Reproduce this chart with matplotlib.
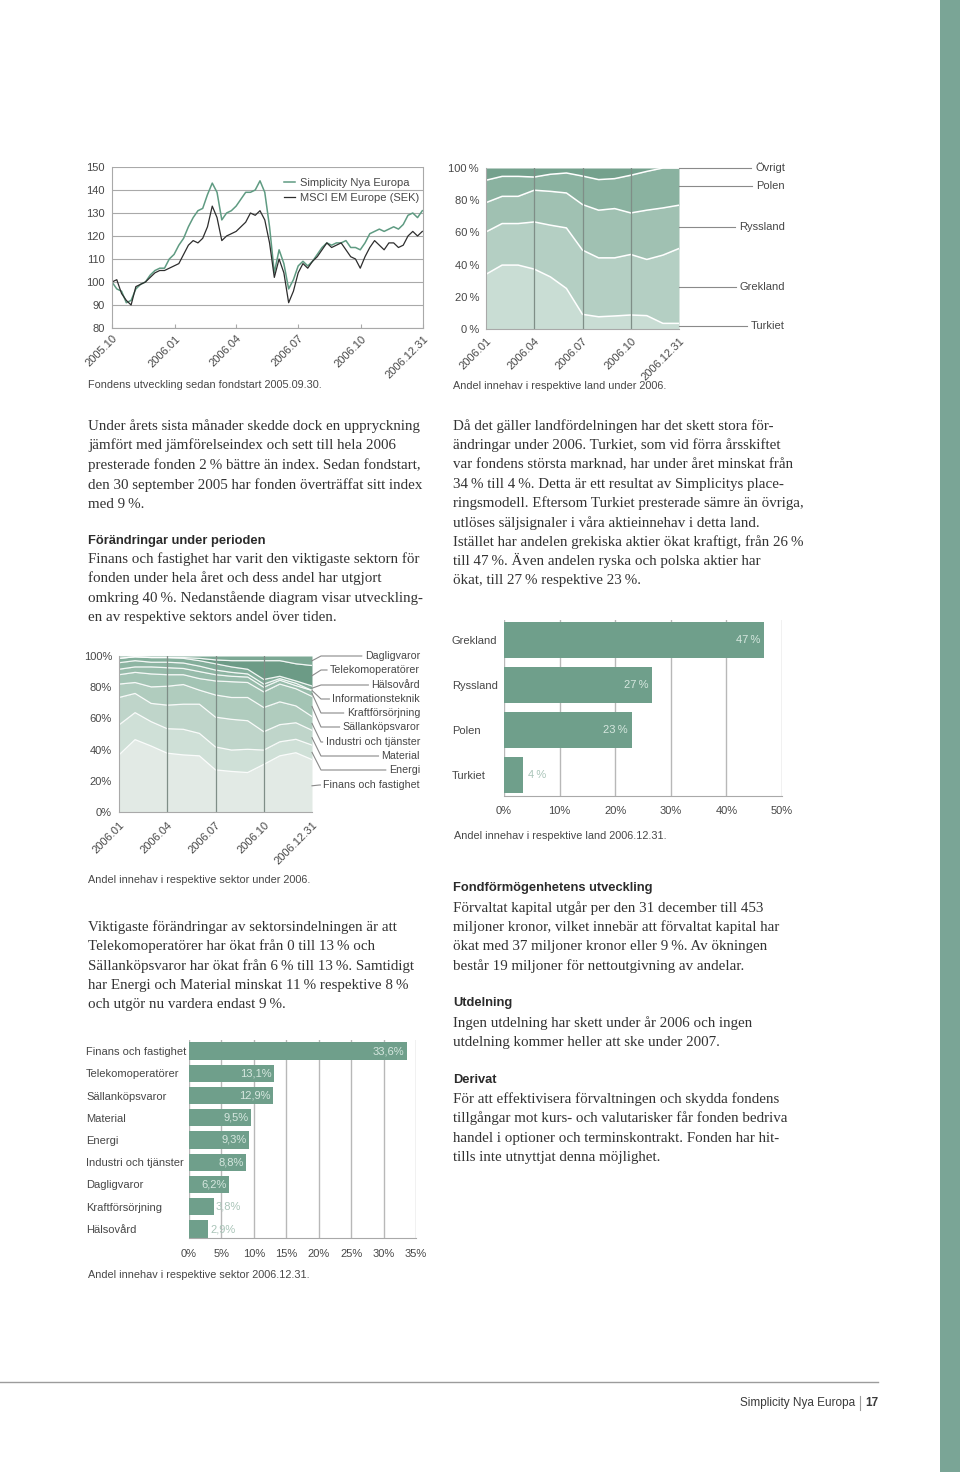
import numpy as np
import matplotlib
matplotlib.use("Agg")
import matplotlib.pyplot as plt
from matplotlib.lines import Line2D

W, H = 960, 1472
SANS = ["Liberation Sans", "DejaVu Sans"]
SERIF = ["Liberation Serif", "DejaVu Serif"]
GRID = "#a9a9a9"
LAB = "#474747"
BODY = "#333333"
BAR = "#6f9f8b"
TS = "\u2009"  # thin space before %

# fund vs index, one value per week from 2005-10-01
fund = [100, 97, 96, 91, 92, 97, 99, 100, 103, 105,
        106, 106, 110, 112, 116, 119, 124, 128, 131, 132,
        138, 143, 139, 127, 130, 131, 133, 136, 139, 139,
        140, 144, 139, 124, 104, 114, 108, 97, 101, 107,
        109, 107, 109, 112, 115, 117, 116, 117, 117, 118,
        115, 115, 114, 117, 121, 122, 123, 122, 123, 124,
        123, 125, 129, 130, 128, 131]
index = [100, 101, 95, 92, 90, 98, 99, 100, 102, 104,
         105, 105, 106, 107, 108, 112, 116, 118, 117, 119,
         124, 133, 128, 118, 120, 121, 122, 124, 126, 130,
         129, 131, 127, 117, 102, 110, 104, 91, 96, 104,
         108, 106, 109, 111, 114, 117, 115, 116, 117, 114,
         111, 110, 106, 111, 115, 118, 116, 114, 117, 117,
         115, 116, 120, 122, 120, 122]
line_tick_days = [0, 92, 182, 273, 365, 456]
line_tick_labels = ["2005.10", "2006.01", "2006.04", "2006.07", "2006.10", "2006.12.31"]

# monthly shares 2006.01 .. 2006.12.31
months = np.arange(13)
area_ticks = [0, 3, 6, 9, 12]
area_tick_labels = ["2006.01", "2006.04", "2006.07", "2006.10", "2006.12.31"]

countries = ["Turkiet", "Grekland", "Ryssland", "Polen", "Övrigt"]
turkiet = [34.0, 39.7, 39.7, 37.2, 32.4, 25.2, 9.1, 7.6, 8.1, 8.7, 8.3, 3.5, 3.5]
grekland = [26.3, 25.8, 25.8, 29.3, 32.1, 37.6, 39.9, 36.6, 36.1, 37.6, 34.9, 42.4, 46.5]
ryssland = [18.2, 16.9, 16.9, 19.7, 21.0, 21.7, 28.3, 29.6, 30.6, 25.8, 30.6, 29.3, 26.9]
polen = [13.9, 12.4, 12.4, 8.2, 10.6, 12.4, 17.7, 19.0, 18.6, 23.4, 24.1, 24.8, 23.1]
ovrigt = [7.6, 5.2, 5.2, 5.6, 3.9, 3.1, 5.0, 7.2, 6.6, 4.5, 2.1, 0.0, 0.0]
country_colors = ["#c9ddd4", "#b4cfc3", "#a0c1b2", "#8ab2a0", "#74a18d"]
country_label_y = [326, 287, 227, 186, 168]

sectors = ["Finans och fastighet", "Energi", "Material", "Industri och tjänster",
           "Sällanköpsvaror", "Kraftförsörjning", "Informationsteknik", "Hälsovård",
           "Telekomoperatörer", "Dagligvaror"]
finans = [36.6, 46.4, 42.3, 37.7, 36.6, 36.0, 27.0, 26.0, 25.3, 30.5, 36.0, 38.0, 33.6]
energi = [19.2, 17.3, 15.6, 15.7, 16.4, 14.4, 14.7, 13.7, 14.9, 9.2, 9.0, 8.6, 9.3]
material = [17.6, 12.3, 11.7, 15.1, 16.1, 18.7, 19.1, 19.7, 18.3, 11.8, 11.0, 10.6, 9.5]
industri = [8.6, 7.0, 10.6, 12.1, 12.6, 9.0, 14.2, 14.0, 14.9, 15.5, 14.6, 10.8, 8.8]
sallankop = [6.0, 6.5, 8.3, 7.4, 6.3, 7.4, 9.0, 10.1, 9.6, 10.0, 11.4, 11.0, 12.9]
kraft = [3.5, 3.5, 4.5, 4.5, 4.0, 4.5, 4.0, 3.5, 3.5, 3.0, 2.5, 2.0, 3.8]
infotek = [4.2, 4.0, 3.0, 3.5, 3.5, 3.5, 3.0, 2.5, 2.0, 2.0, 1.0, 1.5, 0.0]
halsovard = [2.8, 2.5, 3.0, 3.0, 3.0, 3.5, 4.0, 3.5, 3.0, 3.0, 1.5, 1.5, 2.9]
telekom = [0.0, 0.0, 0.0, 0.0, 0.5, 1.5, 2.5, 4.0, 5.5, 12.0, 10.0, 11.0, 13.1]
daglig = [1.5, 0.5, 1.0, 1.0, 1.0, 1.5, 2.5, 3.0, 3.0, 3.0, 3.0, 5.0, 6.2]
sector_colors = ["#e2eae5", "#cfe0d7", "#bfd5ca", "#b0ccbe", "#a3c4b4",
                 "#98bcab", "#8eb5a3", "#84ae9b", "#6c9b86", "#7ca894"]
sector_label_y = [785, 770, 756, 742, 727, 713, 699, 685, 670, 656]

country_bar_names = ["Grekland", "Ryssland", "Polen", "Turkiet"]
country_bar_vals = [46.8, 26.7, 23.0, 3.5]

sector_bar_names = ["Finans och fastighet", "Telekomoperatörer", "Sällanköpsvaror", "Material",
                    "Energi", "Industri och tjänster", "Dagligvaror", "Kraftförsörjning", "Hälsovård"]
sector_bar_vals = [33.6, 13.1, 12.9, 9.5, 9.3, 8.8, 6.2, 3.8, 2.9]

plt.rcParams["font.family"] = SANS
plt.rcParams["font.size"] = 8
plt.rcParams["text.color"] = LAB

fig = plt.figure(figsize=(W / 100, H / 100), dpi=100)
fig.patch.set_facecolor("white")


def box(x0, y0, x1, y1):
    return fig.add_axes([x0 / W, 1 - y1 / H, (x1 - x0) / W, (y1 - y0) / H])


def put(x, y, s, **kw):
    return fig.text(x / W, 1 - y / H, s, **kw)


def frame(ax, sides):
    for s in ["top", "bottom", "left", "right"]:
        ax.spines[s].set_visible(s in sides)
        ax.spines[s].set_color(GRID)
        ax.spines[s].set_linewidth(0.8)


# ---- line chart
ax1 = box(112, 167, 423, 328)
weeks = np.arange(len(fund))
ax1.plot(weeks, fund, color="#5f9b82", lw=1.1, label="Simplicity Nya Europa")
ax1.plot(weeks, index, color="#2d2d2d", lw=0.9, label="MSCI EM Europe (SEK)")
ax1.set_xlim(0, 456 / 7)
ax1.set_ylim(80, 150)
ax1.set_yticks(range(80, 151, 10))
ax1.grid(axis="y", color=GRID, lw=0.8)
ax1.set_axisbelow(True)
frame(ax1, ["left", "right", "bottom"])
ax1.set_xticks(np.array(line_tick_days) / 7, line_tick_labels,
               rotation=45, ha="right", rotation_mode="anchor")
ax1.tick_params(axis="x", length=3, direction="in", color=GRID, pad=4, labelcolor=LAB)
ax1.tick_params(axis="y", length=0, pad=5, labelcolor=LAB)
leg = ax1.legend(loc="upper left", bbox_to_anchor=(0.553, 0.93), frameon=False,
                 handlelength=1.0, handletextpad=0.4, labelspacing=0.45,
                 borderpad=0, borderaxespad=0, fontsize=8)
for t in leg.get_texts():
    t.set_color(LAB)
put(88, 385, "Fondens utveckling sedan fondstart 2005.09.30.", va="center", fontsize=7.8)

# ---- country area chart
ax2 = box(486, 168, 679, 329)
country_shares = [turkiet, grekland, ryssland, polen, ovrigt]
cum = np.cumsum(country_shares, axis=0)
low = np.zeros(len(months))
for top, col in zip(cum, country_colors):
    ax2.fill_between(months, low, top, color=col, lw=0)
    low = top
for top in cum[:-1]:
    ax2.plot(months, top, color="white", lw=1.1)
for m in (3, 6, 9):
    ax2.axvline(m, color="#7f8e87", lw=0.9)
ax2.set_xlim(0, 12)
ax2.set_ylim(0, 100)
frame(ax2, ["left", "bottom"])
ax2.set_yticks(range(0, 101, 20), [f"{v}{TS}%" for v in range(0, 101, 20)])
ax2.set_xticks(area_ticks, area_tick_labels, rotation=45, ha="right", rotation_mode="anchor")
ax2.tick_params(length=0, labelcolor=LAB)
ax2.tick_params(axis="x", pad=5)
ax2.tick_params(axis="y", pad=5)
put(453, 386, "Andel innehav i respektive land under 2006.", va="center", fontsize=7.8)

renderer = fig.canvas.get_renderer()
inv = fig.transFigure.inverted()


def leader(points_disp, color="#8a8a8a"):
    pts = inv.transform(points_disp)
    fig.add_artist(Line2D(pts[:, 0], pts[:, 1], transform=fig.transFigure,
                          color=color, lw=0.8))


for name, ly in zip(countries, country_label_y):
    t = put(785, ly, name, ha="right", va="center")
    bb = t.get_window_extent(renderer)
    x0, _ = ax2.transAxes.transform((1, 0))
    leader(np.array([[x0, H - ly], [bb.x0 - 4, H - ly]]))

# ---- sector area chart
ax3 = box(119, 656, 312, 812)
sector_shares = [finans, energi, material, industri, sallankop, kraft, infotek,
                 halsovard, telekom, daglig]
cum = np.minimum(np.cumsum(sector_shares, axis=0), 100)
low = np.zeros(len(months))
for top, col in zip(cum, sector_colors):
    ax3.fill_between(months, low, top, color=col, lw=0)
    low = top
for top in cum[:-1]:
    ax3.plot(months, top, color="white", lw=0.9, alpha=0.9)
for m in (3, 6, 9):
    ax3.axvline(m, color="#7f8e87", lw=0.9)
ax3.set_xlim(0, 12)
ax3.set_ylim(0, 100)
frame(ax3, ["left", "bottom"])
ax3.set_yticks(range(0, 101, 20), [f"{v}%" for v in range(0, 101, 20)])
ax3.set_xticks(area_ticks, area_tick_labels, rotation=45, ha="right", rotation_mode="anchor")
ax3.tick_params(length=0, labelcolor=LAB)
ax3.tick_params(axis="x", pad=6)
ax3.tick_params(axis="y", pad=5)
put(88, 880, "Andel innehav i respektive sektor under 2006.", va="center", fontsize=7.8)

prev = 0
for name, ly, top in zip(sectors, sector_label_y, cum[:, -1]):
    mid = (prev + top) / 2
    prev = top
    t = put(420, ly, name, ha="right", va="center", fontsize=7.7)
    bb = t.get_window_extent(renderer)
    sx, sy = ax3.transData.transform((12, mid))
    bend = min(sx + 9, bb.x0 - 4)
    leader(np.array([[sx, sy], [bend, H - ly], [bb.x0 - 3, H - ly]]))

# ---- country bars
ax4 = box(504, 620, 782, 796)
yc = np.arange(len(country_bar_names))
ax4.barh(yc, country_bar_vals, height=0.82, color=BAR, zorder=2)
ax4.set_xlim(0, 50)
ax4.set_ylim(3 + 21 / 45, -20 / 45)
ax4.set_xticks(range(0, 51, 10), [f"{v}%" for v in range(0, 51, 10)])
ax4.grid(axis="x", color="#b8b8b8", lw=1)
frame(ax4, ["bottom"])
ax4.set_yticks(yc, country_bar_names)
for lbl in ax4.get_yticklabels():
    lbl.set_ha("left")
ax4.tick_params(axis="y", length=0, pad=37.5, labelcolor=LAB)
ax4.tick_params(axis="x", length=0, pad=7, labelcolor=LAB)
for y, v in zip(yc, country_bar_vals):
    if v > 10:
        ax4.text(v - 0.7, y, f"{round(v)}{TS}%", ha="right", va="center", color="#d6e7df", zorder=3)
    else:
        ax4.text(v + 0.8, y, f"{round(v)}{TS}%", ha="left", va="center", color="#a9c4b8", zorder=3)
put(454, 836, "Andel innehav i respektive land 2006.12.31.", va="center", fontsize=7.8)

# ---- sector bars
ax5 = box(189, 1040, 416, 1238)
yc = np.arange(len(sector_bar_names))
ax5.barh(yc, sector_bar_vals, height=0.78, color=BAR, zorder=2)
ax5.set_xlim(0, 35)
ax5.set_ylim(8 + 9 / 22.25, -11 / 22.25)
ax5.set_xticks(range(0, 36, 5), [f"{v}%" for v in range(0, 36, 5)])
ax5.grid(axis="x", color="#b8b8b8", lw=1)
frame(ax5, ["bottom"])
ax5.set_yticks(yc, sector_bar_names)
for lbl in ax5.get_yticklabels():
    lbl.set_ha("left")
ax5.tick_params(axis="y", length=0, pad=74, labelcolor=LAB)
ax5.tick_params(axis="x", length=0, pad=8, labelcolor=LAB)
for y, v in zip(yc, sector_bar_vals):
    s = f"{v:.1f}%".replace(".", ",")
    if v > 5:
        ax5.text(v - 0.35, y, s, ha="right", va="center", color="#d6e7df", zorder=3)
    else:
        ax5.text(v + 0.35, y, s, ha="left", va="center", color="#a9c4b8", zorder=3)
put(88, 1275, "Andel innehav i respektive sektor 2006.12.31.", va="center", fontsize=7.8)


# ---- body text
def para(x, y0, lines, step=19.5):
    for i, s in enumerate(lines):
        put(x, y0 + i * step, s.replace(" %", TS + "%"), va="baseline",
            family=SERIF, fontsize=10.8, color=BODY)


def head(x, y, s):
    put(x, y, s, va="baseline", fontsize=9.3, weight="bold", color="#2b2b2b")


para(88, 430, ["Under årets sista månader skedde dock en uppryckning",
               "jämfört med jämförelseindex och sett till hela 2006",
               "presterade fonden 2 % bättre än index. Sedan fondstart,",
               "den 30 september 2005 har fonden överträffat sitt index",
               "med 9 %."])
head(88, 544, "Förändringar under perioden")
para(88, 563, ["Finans och fastighet har varit den viktigaste sektorn för",
               "fonden under hela året och dess andel har utgjort",
               "omkring 40 %. Nedanstående diagram visar utveckling-",
               "en av respektive sektors andel över tiden."])
para(453, 430, ["Då det gäller landfördelningen har det skett stora för-",
                "ändringar under 2006. Turkiet, som vid förra årsskiftet",
                "var fondens största marknad, har under året minskat från",
                "34 % till 4 %. Detta är ett resultat av Simplicitys place-",
                "ringsmodell. Eftersom Turkiet presterade sämre än övriga,",
                "utlöses säljsignaler i våra aktieinnehav i detta land.",
                "Istället har andelen grekiska aktier ökat kraftigt, från 26 %",
                "till 47 %. Även andelen ryska och polska aktier har",
                "ökat, till 27 % respektive 23 %."], step=19.3)
para(88, 931, ["Viktigaste förändringar av sektorsindelningen är att",
               "Telekomoperatörer har ökat från 0 till 13 % och",
               "Sällanköpsvaror har ökat från 6 % till 13 %. Samtidigt",
               "har Energi och Material minskat 11 % respektive 8 %",
               "och utgör nu vardera endast 9 %."], step=19.3)
head(453, 891, "Fondförmögenhetens utveckling")
para(453, 912, ["Förvaltat kapital utgår per den 31 december till 453",
                "miljoner kronor, vilket innebär att förvaltat kapital har",
                "ökat med 37 miljoner kronor eller 9 %. Av ökningen",
                "består 19 miljoner för nettoutgivning av andelar."], step=19.2)
head(453, 1006, "Utdelning")
para(453, 1027, ["Ingen utdelning har skett under år 2006 och ingen",
                 "utdelning kommer heller att ske under 2007."], step=19.2)
head(453, 1083, "Derivat")
para(453, 1103, ["För att effektivisera förvaltningen och skydda fondens",
                 "tillgångar mot kurs- och valutarisker får fonden bedriva",
                 "handel i optioner och terminskontrakt. Fonden har hit-",
                 "tills inte utnyttjat denna möjlighet."], step=19.3)

# ---- page furniture
fig.add_artist(Line2D([0, 878 / W], [1 - 1382 / H] * 2, transform=fig.transFigure,
                      color="#9c9c9c", lw=1))
put(855, 1403, "Simplicity Nya Europa", ha="right", va="center", fontsize=8.5, color="#3a3a3a")
fig.add_artist(Line2D([860 / W] * 2, [1 - 1396 / H, 1 - 1410 / H], transform=fig.transFigure,
                      color="#9c9c9c", lw=0.8))
put(878, 1403, "17", ha="right", va="center", fontsize=8.5, weight="bold", color="#3a3a3a")
fig.add_artist(plt.Rectangle((940 / W, 0), 20 / W, 1, transform=fig.transFigure,
                             color="#7aa596", lw=0))

fig.savefig("out.png", dpi=100)
